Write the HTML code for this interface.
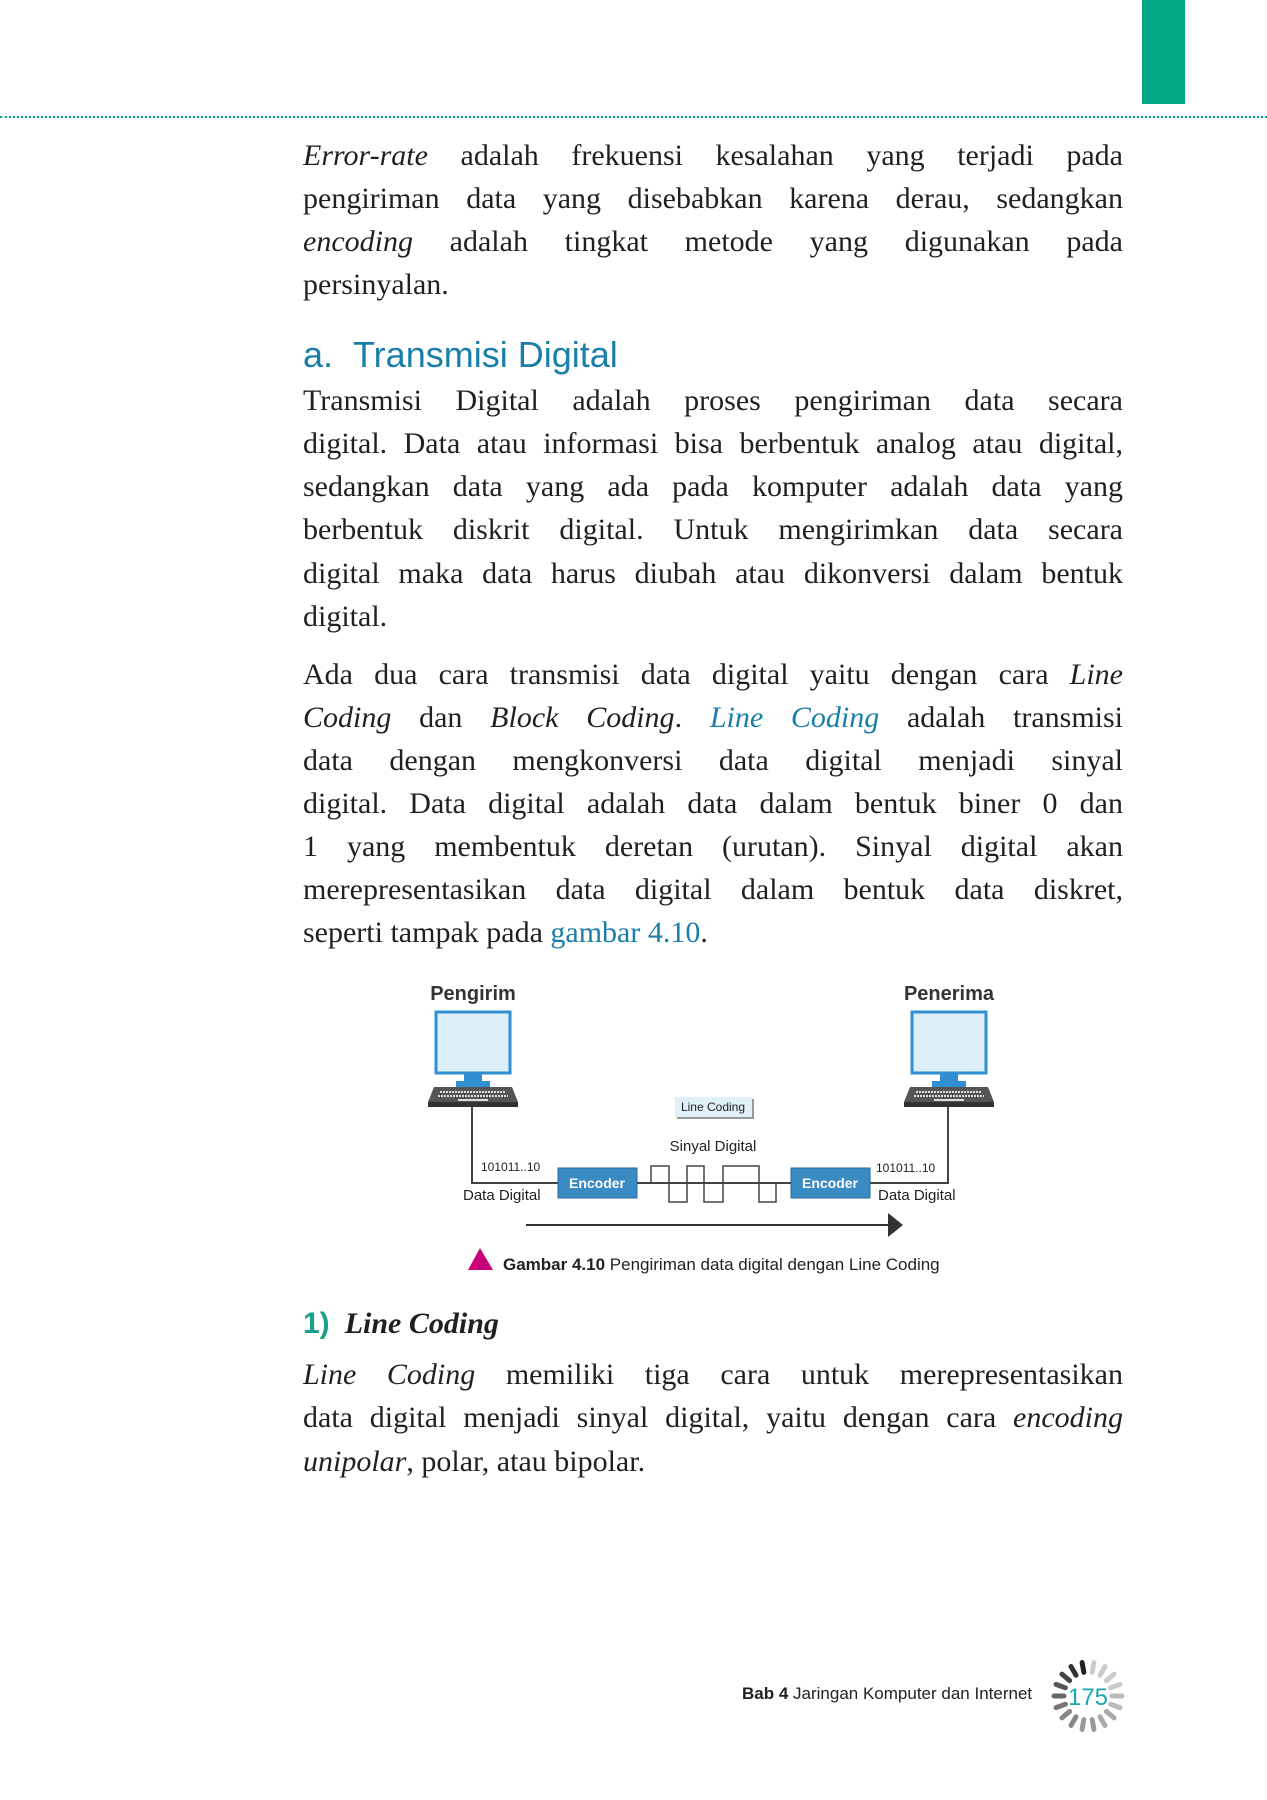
<!DOCTYPE html>
<html><head><meta charset="utf-8"><style>
body{margin:0;width:1267px;height:1800px;background:#fff;position:relative;overflow:hidden;font-family:"Liberation Serif",serif;color:#231f20}
.l{position:absolute;left:303px;width:820px;font-size:30px;white-space:nowrap;text-align:justify;text-align-last:justify;line-height:32px}
.n{text-align-last:left}
i{font-style:italic}
.b{color:#1a7fa8}
.s{font-family:"Liberation Sans",sans-serif}
</style></head><body>
<div style="position:absolute;left:1142px;top:0;width:43px;height:104px;background:#00a884"></div>
<div style="position:absolute;left:0;top:116px;width:1267px;border-top:2px dotted #00a884"></div>

<div class="l" style="top:140px"><i>Error-rate</i> adalah frekuensi kesalahan yang terjadi pada</div>
<div class="l" style="top:183px">pengiriman data yang disebabkan karena derau, sedangkan</div>
<div class="l" style="top:226px"><i>encoding</i> adalah tingkat metode yang digunakan pada</div>
<div class="l n" style="top:269px">persinyalan.</div>

<div class="s b" style="position:absolute;left:303px;top:333px;font-size:36px;line-height:44px">a.&nbsp;&nbsp;Transmisi Digital</div>

<div class="l" style="top:385px">Transmisi Digital adalah proses pengiriman data secara</div>
<div class="l" style="top:428px">digital. Data atau informasi bisa berbentuk analog atau digital,</div>
<div class="l" style="top:471px">sedangkan data yang ada pada komputer adalah data yang</div>
<div class="l" style="top:514px">berbentuk diskrit digital. Untuk mengirimkan data secara</div>
<div class="l" style="top:558px">digital maka data harus diubah atau dikonversi dalam bentuk</div>
<div class="l n" style="top:601px">digital.</div>

<div class="l" style="top:659px">Ada dua cara transmisi data digital yaitu dengan cara <i>Line</i></div>
<div class="l" style="top:702px"><i>Coding</i> dan <i>Block Coding</i>. <i class="b">Line Coding</i> adalah transmisi</div>
<div class="l" style="top:745px">data dengan mengkonversi data digital menjadi sinyal</div>
<div class="l" style="top:788px">digital. Data digital adalah data dalam bentuk biner 0 dan</div>
<div class="l" style="top:831px">1 yang membentuk deretan (urutan). Sinyal digital akan</div>
<div class="l" style="top:874px">merepresentasikan data digital dalam bentuk data diskret,</div>
<div class="l n" style="top:917px">seperti tampak pada <span class="b">gambar 4.10</span>.</div>

<svg style="position:absolute;left:0;top:0" width="1267" height="1800" font-family="Liberation Sans, sans-serif">
<g id="pc">
<rect x="436" y="1012" width="74" height="61" fill="#dceef8" stroke="#2f8fd0" stroke-width="3"/>
<rect x="464" y="1073" width="18" height="10" fill="#2f8fd0"/>
<rect x="456" y="1081" width="34" height="6" fill="#2f8fd0"/>
<polygon points="434,1087 512,1087 518,1102 428,1102" fill="#555"/>
<rect x="428" y="1102" width="90" height="5" fill="#333"/>
<line x1="440" y1="1092" x2="506" y2="1092" stroke="#ddd" stroke-width="2" stroke-dasharray="2 1"/>
<line x1="438" y1="1096" x2="508" y2="1096" stroke="#ddd" stroke-width="2" stroke-dasharray="2 1"/>
<rect x="458" y="1099" width="30" height="2" fill="#ddd"/>
</g>
<use href="#pc" x="476"/>
<text x="473" y="1000" font-size="20" font-weight="bold" text-anchor="middle" fill="#333">Pengirim</text>
<text x="949" y="1000" font-size="20" font-weight="bold" text-anchor="middle" fill="#333">Penerima</text>
<polyline points="472,1107 472,1183 558,1183" fill="none" stroke="#444" stroke-width="2"/>
<polyline points="948,1107 948,1183 870,1183" fill="none" stroke="#444" stroke-width="2"/>
<text x="481" y="1171" font-size="12" fill="#222">101011..10</text>
<text x="876" y="1172" font-size="12" fill="#222">101011..10</text>
<text x="463" y="1200" font-size="15" fill="#222">Data Digital</text>
<text x="878" y="1200" font-size="15" fill="#222">Data Digital</text>
<rect x="558" y="1168" width="79" height="30" fill="#3a8ac4" stroke="#2a6a9a"/>
<rect x="791" y="1168" width="79" height="30" fill="#3a8ac4" stroke="#2a6a9a"/>
<text x="597" y="1188" font-size="14" font-weight="bold" fill="#fff" text-anchor="middle">Encoder</text>
<text x="830" y="1188" font-size="14" font-weight="bold" fill="#fff" text-anchor="middle">Encoder</text>
<line x1="637" y1="1183" x2="791" y2="1183" stroke="#444" stroke-width="2"/>
<polyline points="651,1183 651,1166 669,1166 669,1202 687,1202 687,1166 704,1166 704,1202 723,1202 723,1166 759,1166 759,1202 776,1202 776,1183" fill="none" stroke="#444" stroke-width="1.5"/>
<text x="713" y="1151" font-size="15" text-anchor="middle" fill="#222">Sinyal Digital</text>
<rect x="677" y="1099" width="77" height="20" fill="#999"/>
<rect x="675" y="1097" width="77" height="20" fill="#dff0f8"/>
<text x="713" y="1111" font-size="12" text-anchor="middle" fill="#222">Line Coding</text>
<line x1="526" y1="1225" x2="890" y2="1225" stroke="#333" stroke-width="2"/>
<polygon points="888,1213 903,1225 888,1237" fill="#333"/>
<polygon points="480,1248 493,1270 468,1270" fill="#c8007a"/>
<text x="503" y="1270" font-size="17" fill="#222"><tspan font-weight="bold">Gambar 4.10</tspan> Pengiriman data digital dengan Line Coding</text>
</svg>

<div style="position:absolute;left:303px;top:1306px;font-size:30px;line-height:36px;font-weight:bold"><span class="s" style="color:#1aa08a">1)</span>&nbsp;&nbsp;<i>Line Coding</i></div>

<div class="l" style="top:1359px"><i>Line Coding</i> memiliki tiga cara untuk merepresentasikan</div>
<div class="l" style="top:1402px">data digital menjadi sinyal digital, yaitu dengan cara <i>encoding</i></div>
<div class="l n" style="top:1446px"><i>unipolar</i>, polar, atau bipolar.</div>

<div class="s" style="position:absolute;left:742px;top:1684px;font-size:17px;color:#222"><b>Bab 4</b> Jaringan Komputer dan Internet</div>
<svg style="position:absolute;left:1050px;top:1658px" width="76" height="76">
<g stroke-width="5" stroke-linecap="round">
<line x1="38" y1="4" x2="38" y2="14" stroke="#ccc" transform="rotate(10 38 38)"/>
<line x1="38" y1="4" x2="38" y2="14" stroke="#ccc" transform="rotate(30 38 38)"/>
<line x1="38" y1="4" x2="38" y2="14" stroke="#ccc" transform="rotate(50 38 38)"/>
<line x1="38" y1="4" x2="38" y2="14" stroke="#ccc" transform="rotate(70 38 38)"/>
<line x1="38" y1="4" x2="38" y2="14" stroke="#bbb" transform="rotate(90 38 38)"/>
<line x1="38" y1="4" x2="38" y2="14" stroke="#bbb" transform="rotate(110 38 38)"/>
<line x1="38" y1="4" x2="38" y2="14" stroke="#aaa" transform="rotate(130 38 38)"/>
<line x1="38" y1="4" x2="38" y2="14" stroke="#aaa" transform="rotate(150 38 38)"/>
<line x1="38" y1="4" x2="38" y2="14" stroke="#999" transform="rotate(170 38 38)"/>
<line x1="38" y1="4" x2="38" y2="14" stroke="#999" transform="rotate(190 38 38)"/>
<line x1="38" y1="4" x2="38" y2="14" stroke="#888" transform="rotate(210 38 38)"/>
<line x1="38" y1="4" x2="38" y2="14" stroke="#888" transform="rotate(230 38 38)"/>
<line x1="38" y1="4" x2="38" y2="14" stroke="#777" transform="rotate(250 38 38)"/>
<line x1="38" y1="4" x2="38" y2="14" stroke="#666" transform="rotate(270 38 38)"/>
<line x1="38" y1="4" x2="38" y2="14" stroke="#555" transform="rotate(290 38 38)"/>
<line x1="38" y1="4" x2="38" y2="14" stroke="#444" transform="rotate(310 38 38)"/>
<line x1="38" y1="4" x2="38" y2="14" stroke="#333" transform="rotate(330 38 38)"/>
<line x1="38" y1="4" x2="38" y2="14" stroke="#222" transform="rotate(350 38 38)"/>
</g>
<text x="38" y="47" font-size="24" text-anchor="middle" fill="#1aa7b0" font-family="Liberation Sans, sans-serif">175</text>
</svg>
</body></html>
